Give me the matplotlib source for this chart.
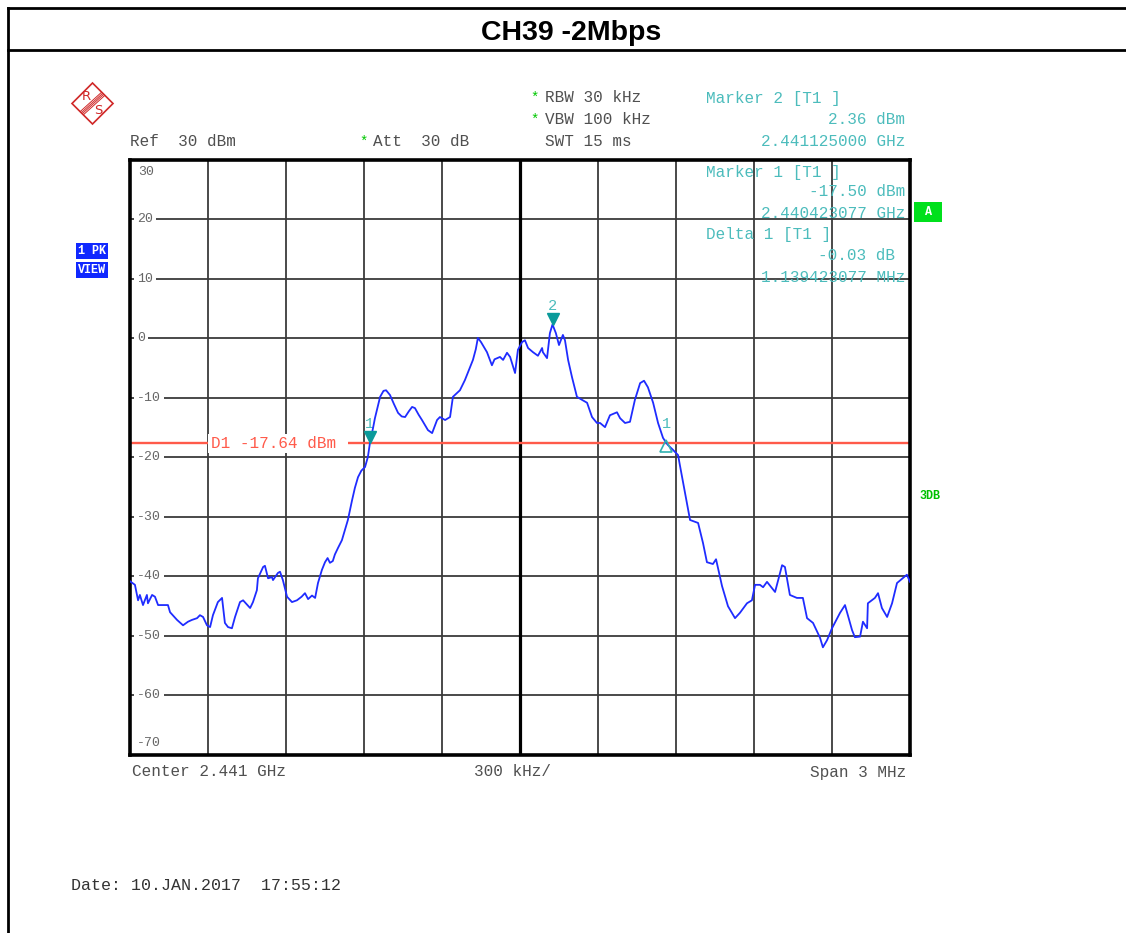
import numpy as np
import matplotlib.pyplot as plt
from matplotlib.lines import Line2D
from matplotlib.patches import Polygon
from matplotlib.transforms import ScaledTranslation

W, H = 1126, 933

# spectrum trace: offset from centre frequency in kHz, level in dBm
freq_khz = [
    -1500, -1481, -1469, -1462, -1450, -1435, -1431, -1415, -1404, -1392,
    -1354, -1346, -1319, -1296, -1277, -1262, -1242, -1231, -1219, -1204,
    -1192, -1181, -1162, -1146, -1135, -1123, -1108, -1096, -1077, -1065,
    -1038, -1027, -1012, -1008, -988, -981, -969, -954, -950, -931,
    -923, -912, -896, -877, -858, -840, -827, -815, -800, -788,
    -777, -762, -750, -740, -731, -720, -712, -700, -685, -662,
    -646, -635, -623, -610, -596, -585, -577, -565, -558, -538,
    -525, -515, -500, -485, -469, -455, -442, -427, -415, -404,
    -390, -377, -354, -338, -319, -308, -288, -269, -258, -231,
    -212, -192, -181, -170, -162, -150, -127, -108, -98, -88,
    -77, -65, -50, -38, -19, -8, 8, 19, 31, 50,
    69, 85, 88, 104, 115, 125, 138, 150, 165, 173,
    185, 200, 219, 238, 258, 277, 296, 308, 327, 346,
    373, 385, 404, 423, 442, 462, 477, 492, 512, 531,
    550, 562.5, 569, 588, 608, 615, 635, 654, 685, 704,
    719, 742, 754, 777, 800, 827, 846, 873, 892, 904,
    923, 935, 950, 981, 1008, 1019, 1038, 1065, 1088, 1104,
    1127, 1154, 1165, 1181, 1200, 1231, 1250, 1277, 1288, 1308,
    1319, 1335, 1338, 1365, 1377, 1392, 1412, 1431, 1450, 1488,
    1500,
]
level_dbm = [
    -40.8, -41.4, -44.0, -43.1, -44.8, -43.1, -44.5, -43.1, -43.4, -44.8,
    -44.8, -46.0, -47.3, -48.2, -47.6, -47.3, -47.0, -46.5, -46.8, -48.2,
    -48.5, -46.5, -44.3, -43.6, -47.8, -48.5, -48.7, -46.8, -44.3, -44.0,
    -45.3, -44.3, -42.3, -40.3, -38.4, -38.2, -40.3, -40.1, -40.6, -39.4,
    -39.2, -40.6, -43.4, -44.3, -44.0, -43.4, -42.8, -43.8, -43.2, -43.6,
    -41.1, -38.9, -37.6, -36.9, -37.7, -37.4, -36.3, -35.2, -33.9, -30.5,
    -27.2, -25.1, -23.3, -22.2, -21.6, -19.9, -17.5, -15.0, -13.4, -9.8,
    -8.8, -8.7, -9.5, -11.0, -12.5, -13.1, -13.2, -12.2, -11.5, -11.7,
    -12.8, -13.7, -15.4, -15.9, -13.7, -13.2, -13.7, -13.2, -9.8, -8.7,
    -7.0, -4.8, -3.6, -1.8, 0.1, -0.6, -2.3, -4.5, -3.5, -3.3,
    -3.1, -3.6, -2.4, -3.1, -5.8, -1.9, -0.6, -0.3, -1.6, -2.3,
    -2.9, -1.6, -2.3, -3.3, 0.9, 2.36, 0.9, -1.1, 0.6, -0.3,
    -3.6, -6.5, -9.8, -10.3, -10.8, -13.2, -14.2, -14.2, -14.9, -12.9,
    -12.4, -13.4, -14.2, -14.0, -10.3, -7.5, -7.1, -8.2, -10.8, -14.2,
    -16.7, -17.53, -17.9, -18.7, -19.6, -21.3, -26.0, -30.5, -31.0, -34.4,
    -37.6, -37.9, -37.1, -41.6, -45.0, -47.0, -46.1, -44.5, -44.0, -41.4,
    -41.4, -41.8, -40.9, -42.6, -38.1, -38.4, -43.1, -43.6, -43.6, -47.0,
    -47.8, -50.3, -51.9, -50.7, -48.7, -46.1, -44.8, -49.0, -50.2, -50.1,
    -47.6, -48.7, -44.5, -43.6, -42.8, -45.3, -46.8, -44.5, -41.1, -39.7,
    -40.9,
]

center_ghz = 2.441
span_mhz = 3
ref_level = 30
bottom_level = -70
display_line = -17.64

marker_labels = ["1", "2"]
marker_khz = [-576.923077, 125.0]
marker_dbm = [-17.50, 2.36]
delta_offset_khz = 1139.423077
delta_db = -0.03

y_levels = list(range(30, -71, -10))

mono = "Liberation Mono"
grey = "#505050"
teal = "#4cbcbc"
red = "#ff5a4a"
logo_red = "#d02828"

fig = plt.figure(figsize=(W / 100, H / 100), dpi=100)


def ftext(px, py, s, **kw):
    kw.setdefault("family", mono)
    kw.setdefault("fontsize", 11.5)
    kw.setdefault("va", "center")
    return fig.text(px / W, 1 - py / H, s, **kw)


def fline(xs, ys, **kw):
    fig.add_artist(Line2D([x / W for x in xs], [1 - y / H for y in ys],
                          transform=fig.transFigure, **kw))


# page frame and title box
fline([8, 8], [8, 933], color="black", lw=2)
fline([8, W], [8, 8], color="black", lw=2)
fline([8, W], [50, 50], color="black", lw=2)
ftext(571, 33, "CH39 -2Mbps", family="Liberation Sans", fontsize=20.5,
      weight="bold", ha="center")

# R&S logo
logo_c, logo_r = (92.5, 103.5), 20.5
pts = [(logo_c[0], logo_c[1] - logo_r), (logo_c[0] + logo_r, logo_c[1]),
       (logo_c[0], logo_c[1] + logo_r), (logo_c[0] - logo_r, logo_c[1])]
fig.add_artist(Polygon([(x / W, 1 - y / H) for x, y in pts], closed=True,
                       fill=False, ec=logo_red, lw=1.2,
                       transform=fig.transFigure))
for d in (-1.6, -0.5, 0.5, 1.6):
    fline([103 + d, 82 + d], [94 + d, 113 + d], color=logo_red, lw=0.7)
ftext(86.5, 97, "R", family="DejaVu Sans", fontsize=9.5, color=logo_red,
      ha="center")
ftext(98.5, 111, "S", family="DejaVu Sans", fontsize=9.5, color=logo_red,
      ha="center")

# instrument settings
star = dict(color="#00c800", fontsize=10, ha="center")
ftext(535, 98, "*", **star)
ftext(545, 98, "RBW 30 kHz", color=grey)
ftext(535, 120, "*", **star)
ftext(545, 120, "VBW 100 kHz", color=grey)
ftext(130, 142, f"Ref  {ref_level} dBm", color=grey)
ftext(364, 142, "*", **star)
ftext(373, 142, "Att  30 dB", color=grey)
ftext(545, 142, "SWT 15 ms", color=grey)

# marker readouts
m1_ghz = center_ghz + marker_khz[0] / 1e6
m2_ghz = center_ghz + marker_khz[1] / 1e6
ftext(706, 98, "Marker 2 [T1 ]", color=teal)
ftext(905, 120, f"{marker_dbm[1]:.2f} dBm", color=teal, ha="right")
ftext(905, 142, f"{m2_ghz:.9f} GHz", color=teal, ha="right")
ftext(706, 172, "Marker 1 [T1 ]", color=teal, zorder=5)
ftext(905, 192, f"{marker_dbm[0]:.2f} dBm", color=teal, ha="right", zorder=5)
ftext(905, 213, f"{m1_ghz:.9f} GHz", color=teal, ha="right", zorder=5)
ftext(706, 235, "Delta 1 [T1 ]", color=teal, zorder=5)
ftext(905, 256, f"{delta_db:.2f} dB ", color=teal, ha="right", zorder=5)
ftext(905, 277, f"{delta_offset_khz / 1000:.9f} MHz", color=teal, ha="right",
      zorder=5)

# side annotations
for py, s in [(251, "1 PK"), (270, "VIEW")]:
    ftext(92, py, s, color="white", weight="bold", fontsize=8.5, ha="center",
          bbox=dict(boxstyle="square,pad=0.2", fc="#1028ff", ec="none"))
ftext(928, 212, " A ", color="white", weight="bold", fontsize=8.5, ha="center",
      bbox=dict(boxstyle="square,pad=0.3", fc="#00e01c", ec="none"))
ftext(930, 496, "3DB", color="#00c000", weight="bold", fontsize=8.5, ha="center")

# trace area
ax = fig.add_axes([130 / W, 1 - 755 / H, 780 / W, 595 / H])
half = span_mhz * 1000 / 2
ax.set_xlim(-half, half)
ax.set_ylim(bottom_level, ref_level)
ax.set_xticks(np.linspace(-half, half, 11))
ax.set_yticks(y_levels)
ax.tick_params(length=0, labelbottom=False, labelleft=False)
ax.grid(True, color="#3a3a3a", lw=1.3)
ax.set_axisbelow(True)
for sp in ax.spines.values():
    sp.set_linewidth(2.6)
    sp.set_color("black")
ax.axvline(0, color="black", lw=2.3, zorder=1)

ytr = ax.get_yaxis_transform()
ylab = dict(family=mono, fontsize=9.5, color="#666666")
for v in y_levels:
    if v == ref_level:
        ax.annotate(str(v), xy=(0.011, v), xycoords=ytr, xytext=(0, -8.6),
                    textcoords="offset points", va="center", **ylab)
    elif v == bottom_level:
        ax.annotate(str(v), xy=(0.009, v), xycoords=ytr, xytext=(0, 8.6),
                    textcoords="offset points", va="center", **ylab)
    else:
        ax.text(0.009, v, str(v), transform=ytr, va="center", ha="left",
                zorder=3, bbox=dict(boxstyle="square,pad=0.2", fc="white",
                                    ec="none"), **ylab)

# display line
ax.axhline(display_line, color=red, lw=1.7, zorder=2)
ax.text(-1190, display_line, f"D1 {display_line:.2f} dBm ", color=red,
        family=mono, fontsize=11.5, va="center", ha="left", zorder=3,
        bbox=dict(boxstyle="square,pad=0.15", fc="white", ec="none"))

ax.plot(freq_khz, level_dbm, color="#1f2cff", lw=1.3, zorder=4)

# markers
up = ax.transData + ScaledTranslation(0, 4 / 72, fig.dpi_scale_trans)
for lab, fx, fy in zip(marker_labels, marker_khz, marker_dbm):
    ax.plot(fx, fy, marker="v", ms=8, color="#0a9a9a", transform=up, zorder=5)
    ax.annotate(lab, xy=(fx, fy), xytext=(0, 13.5), textcoords="offset points",
                ha="center", va="center", color=teal, family=mono, fontsize=11)

delta_khz = marker_khz[0] + delta_offset_khz
delta_dbm = marker_dbm[0] + delta_db
down = ax.transData + ScaledTranslation(0, -2 / 72, fig.dpi_scale_trans)
ax.plot(delta_khz, delta_dbm, marker="^", ms=8, mfc="none", mec="#30b0b0",
        mew=1.2, transform=down, zorder=5)
ax.annotate("1", xy=(delta_khz, delta_dbm), xytext=(0, 13.5),
            textcoords="offset points", ha="center", va="center", color=teal,
            family=mono, fontsize=11)

# frequency axis captions
ftext(132, 772, f"Center {center_ghz} GHz", color=grey)
ftext(513, 772, f"{int(span_mhz * 100)} kHz/", color=grey, ha="center")
ftext(906, 772, f"Span {span_mhz} MHz", color=grey, ha="right")

ftext(71, 885, "Date: 10.JAN.2017  17:55:12", color="#333333", fontsize=12)

fig.savefig("out.png", dpi=100)
